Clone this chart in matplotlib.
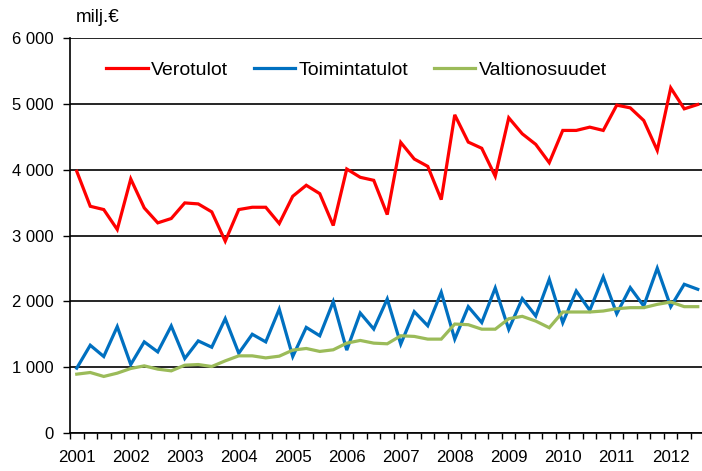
import matplotlib
matplotlib.use("Agg")
import matplotlib.pyplot as plt
from matplotlib.ticker import FixedLocator, FuncFormatter

plt.rcParams['font.family'] = ['Liberation Sans', 'DejaVu Sans']

years = ['2001', '2002', '2003', '2004', '2005', '2006', '2007', '2008', '2009', '2010', '2011', '2012']
series_names = ['Verotulot', 'Toimintatulot', 'Valtionosuudet']

verotulot = [3975, 3444, 3394, 3091, 3859, 3419, 3192, 3258,
             3495, 3480, 3359, 2914, 3394, 3429, 3429, 3182,
             3596, 3763, 3636, 3152, 4010, 3884, 3838, 3318,
             4414, 4162, 4050, 3545, 4833, 4419, 4325, 3900,
             4788, 4545, 4384, 4106, 4596, 4596, 4646, 4596,
             4980, 4939, 4747, 4293, 5242, 4924, 4990]
toimintatulot = [985, 1333, 1162, 1616, 1040, 1384, 1232, 1626,
                 1131, 1399, 1303, 1737, 1212, 1500, 1384, 1881,
                 1162, 1604, 1477, 1995, 1259, 1822, 1579, 2036,
                 1350, 1843, 1629, 2137, 1426, 1919, 1678, 2203,
                 1574, 2041, 1777, 2335, 1675, 2157, 1863, 2371,
                 1812, 2208, 1929, 2503, 1919, 2259, 2183]
valtionosuudet = [894, 919, 859, 909, 980, 1020, 970, 944,
                  1030, 1040, 1010, 1096, 1172, 1172, 1141, 1167,
                  1259, 1284, 1239, 1264, 1365, 1406, 1365, 1355,
                  1477, 1467, 1426, 1426, 1655, 1645, 1577, 1577,
                  1736, 1772, 1700, 1599, 1838, 1838, 1838, 1853,
                  1888, 1904, 1904, 1954, 1990, 1919, 1919]

colors = ['#FF0000', '#0070C0', '#9BBB59']

W, H = 702, 471
fig = plt.figure(figsize=(W / 100, H / 100), dpi=100)
left, right, top, bottom = 70, 704.5, 38, 433
ax = fig.add_axes([left / W, 1 - bottom / H, (right - left) / W, (bottom - top) / H])

x = list(range(len(verotulot)))
for vals, name, c in zip([verotulot, toimintatulot, valtionosuudet], series_names, colors):
    ax.plot(x, vals, color=c, lw=2.3, label=name, solid_joinstyle='miter', zorder=3)

ax.set_xlim(-0.5, len(verotulot) - 0.5)
ax.set_ylim(0, 6000)
ax.set_yticks(range(0, 6001, 1000))
ax.yaxis.set_major_formatter(FuncFormatter(lambda v, p: f"{int(v):,}".replace(",", " ")))
ax.grid(axis='y', color='black', lw=1.2, zorder=1)
ax.set_axisbelow(True)

# quarter boundary ticks
ax.xaxis.set_major_locator(FixedLocator([i - 0.5 for i in range(len(verotulot) + 1)]))
ax.xaxis.set_major_formatter(FuncFormatter(lambda v, p: ''))
ax.xaxis.set_minor_locator(FixedLocator([4 * i for i in range(len(years))]))
ax.set_xticklabels(years, minor=True)
ax.tick_params(axis='x', which='major', length=4, width=1, direction='out', color='black')
ax.tick_params(axis='x', which='minor', length=0, pad=12, labelsize=12.2)
ax.tick_params(axis='y', length=5, width=1, direction='out', labelsize=12, pad=7)

for s in ['top', 'right']:
    ax.spines[s].set_visible(False)
for s in ['left', 'bottom']:
    ax.spines[s].set_linewidth(1.2)
    ax.spines[s].set_color('black')

fig.text(76 / W, 1 - 18 / H, 'milj.€', fontsize=13.5, va='center', ha='left')

leg = ax.legend(loc='center left', bbox_to_anchor=(106 / W, 1 - 70 / H), bbox_transform=fig.transFigure,
                ncol=3, frameon=False, fontsize=14, handlelength=2.15, handletextpad=0.18,
                columnspacing=1.29, borderpad=0, borderaxespad=0)
for line in leg.get_lines():
    line.set_linewidth(2.3)

fig.savefig('out.png', dpi=100)
